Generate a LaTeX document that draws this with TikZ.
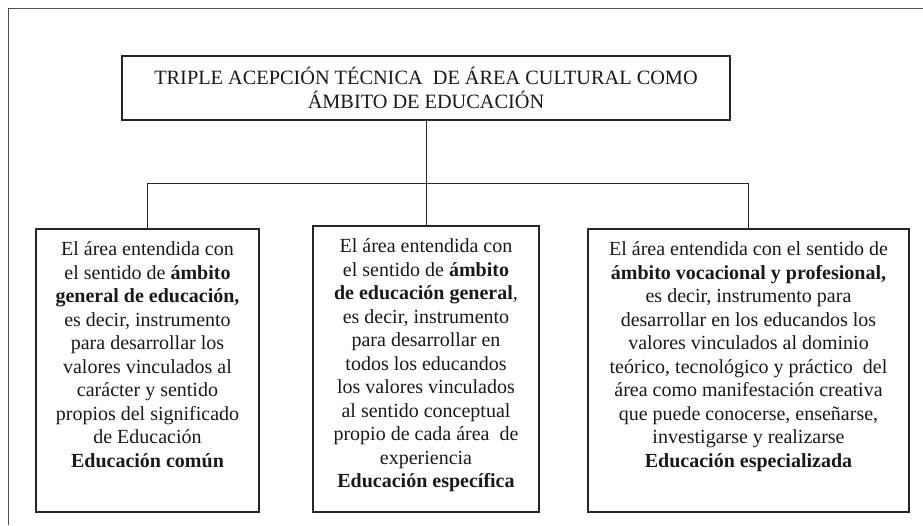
\documentclass[tikz,border=0pt]{standalone}
\usepackage{fontspec}
\setmainfont{Liberation Serif}

\newcommand{\boxtext}[3]{\parbox[c][#2][t]{#1}{\centering\vspace*{10.5pt}\strut#3\par}}

\begin{document}
\begin{tikzpicture}[
		x=1pt, y=-1pt,
		every node/.style={draw=black!85, line width=1.1pt, inner sep=0pt,
			align=center, text=black!90, font=\fontsize{20}{23.5}\selectfont},
		bus/.style={draw=black!85, line width=1pt}
	]
	\useasboundingbox (0,0) rectangle (923,525);
	\draw[black!70, line width=1pt] (923,8) -- (8,8) -- (8,525);

	\node[minimum width=608pt, minimum height=64pt, font=\fontsize{20.3}{24}\selectfont]
		(top) at (426,88) {TRIPLE ACEPCIÓN TÉCNICA~ DE ÁREA CULTURAL COMO\\ÁMBITO DE EDUCACIÓN};

	\node (b1) at (147.5,370.5) {\boxtext{223pt}{283pt}{%
		El área entendida con\\ el sentido de \textbf{ámbito}\\
		\textbf{general de educación,}\\ es decir, instrumento\\
		para desarrollar los\\ valores vinculados al\\ carácter y sentido\\
		propios del significado\\ de Educación\\ \textbf{Educación común}}};
	\node (b2) at (426,369) {\boxtext{226pt}{286pt}{%
		El área entendida con\\ el sentido de \textbf{ámbito}\\
		\textbf{de educación general},\\ es decir, instrumento\\
		para desarrollar en\\ todos los educandos\\ los valores vinculados\\
		al sentido conceptual\\ propio de cada área~ de\\ experiencia\\
		\textbf{Educación específica}}};
	\node (b3) at (748.5,370.5) {\boxtext{321pt}{283pt}{%
		El área entendida con el sentido de\\
		\textbf{ámbito vocacional y profesional,}\\ es decir, instrumento para\\
		desarrollar en los educandos los\\ valores vinculados al dominio\\
		teórico, tecnológico y práctico~ del\\ área como manifestación creativa\\
		que puede conocerse, enseñarse,\\ investigarse y realizarse\\
		\textbf{Educación especializada}}};

	\coordinate (bus) at (426,183);
	\coordinate (d1) at (b1.north |- bus);
	\coordinate (d3) at (b3.north |- bus);

	\draw[bus] (top.south) -- (b2.north);
	\draw[bus] (d1) -- (d3);
	\foreach \from/\to in {
		d1/b1,
		d3/b3}
		\draw[bus] (\from) -- (\to.north);

\end{tikzpicture}
\end{document}
